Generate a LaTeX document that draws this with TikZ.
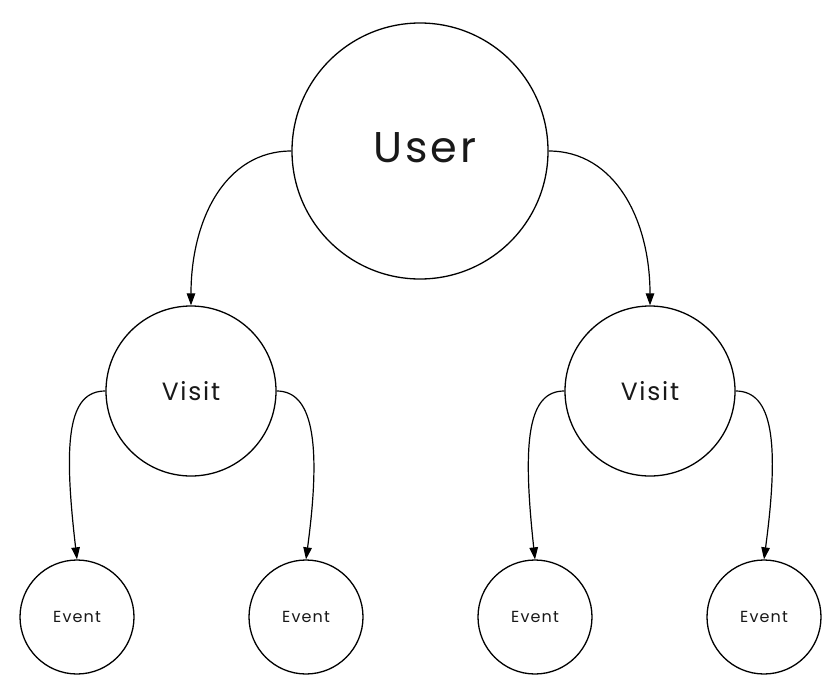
\documentclass[tikz,border=0pt]{standalone}
\usepackage{fontspec}
\setmainfont{Poppins}[LetterSpace=7]
\usetikzlibrary{arrows.meta}
\begin{document}
\begin{tikzpicture}[x=1pt,y=-1pt,
  circ/.style={circle,draw=black,line width=1.3pt,fill=white,inner sep=0pt,text=black!90},
  conn/.style={line width=1.2pt,-{Triangle[length=12pt,width=8.5pt]}}]
\fill[white] (0,0) rectangle (840,696);
\useasboundingbox (0,0) rectangle (840,696);
\node[circ,minimum size=256pt] (user) at (420,151) {};
\node[font=\fontsize{43}{46}\selectfont,text=black!90] (usertext) at (425,148) {User};
\node[circ,minimum size=170pt,font=\fontsize{25}{28}\selectfont] (lv) at (191,391) {Visit};
\node[circ,minimum size=170pt,font=\fontsize{25}{28}\selectfont] (rv) at (650,391) {Visit};
\node[circ,minimum size=114pt,font=\fontsize{16}{18}\selectfont] (e1) at (77,617) {Event};
\node[circ,minimum size=114pt,font=\fontsize{16}{18}\selectfont] (e2) at (306,617) {Event};
\node[circ,minimum size=114pt,font=\fontsize{16}{18}\selectfont] (e3) at (535,617) {Event};
\node[circ,minimum size=114pt,font=\fontsize{16}{18}\selectfont] (e4) at (764,617) {Event};
\draw[conn] (user.west) .. controls (225,151) and (191,220) .. (lv.north);
\draw[conn] (user.east) .. controls (615,151) and (650,220) .. (rv.north);
\draw[conn] (lv.west) .. controls (68,391) and (63,440) .. (e1.north);
\draw[conn] (lv.east) .. controls (312,391) and (322,440) .. (e2.north);
\draw[conn] (rv.west) .. controls (528,391) and (522,440) .. (e3.north);
\draw[conn] (rv.east) .. controls (772,391) and (780,440) .. (e4.north);
\end{tikzpicture}
\end{document}
